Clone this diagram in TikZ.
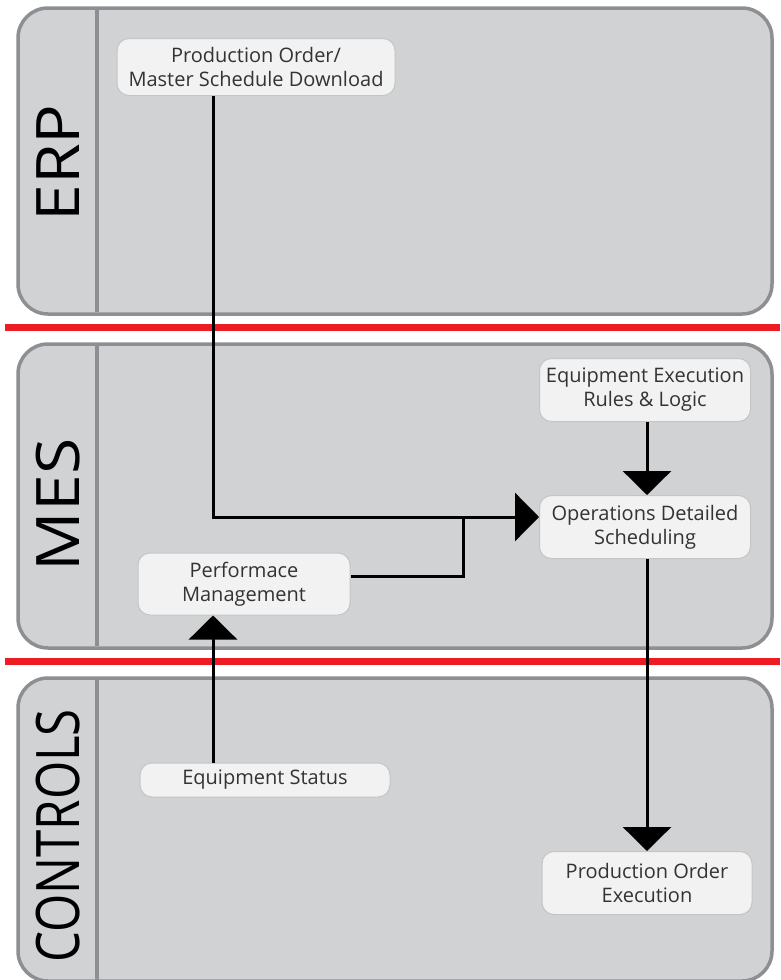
\documentclass[tikz,border=0pt]{standalone}
\usepackage{fontspec}
\setmainfont{Open Sans}
\usetikzlibrary{arrows.meta}
\definecolor{lanefill}{HTML}{D1D2D4}
\definecolor{laneline}{HTML}{8E8F92}
\definecolor{boxfill}{HTML}{F2F2F2}
\definecolor{boxline}{HTML}{C4C5C7}
\definecolor{txt}{HTML}{333333}
\definecolor{redline}{HTML}{ED1C24}
\tikzset{
  lane/.style={fill=lanefill, draw=laneline, line width=3.5pt, rounded corners=30pt},
  divider/.style={draw=laneline, line width=4pt},
  lanelabel/.style={rotate=90, font=\fontsize{60}{60}\selectfont, text=black, inner sep=0pt},
  sep/.style={draw=redline, line width=7pt},
  box/.style={draw=boxline, fill=boxfill, line width=1pt, rounded corners=12pt, text=txt,
    font=\fontsize{20}{24}\selectfont, align=center, inner sep=0pt},
  conn/.style={draw=black, line width=3pt},
  arr/.style={conn, -{Triangle[width=48pt,length=24pt]}},
}
\begin{document}
\begin{tikzpicture}[x=1pt,y=-1pt]
\useasboundingbox (0,0) rectangle (780,980);
\fill[white] (0,0) rectangle (780,980);
% lanes
\path[lane] (18,8) rectangle (772,314);
\path[lane] (18,344) rectangle (772,648);
\path[lane] (18,678) rectangle (772,981);
\draw[divider] (97,10) -- (97,312);
\draw[divider] (97,346) -- (97,646);
\draw[divider] (97,680) -- (97,980);
\node[lanelabel] (erp) at (58,163) {\scalebox{1.1}[1]{ERP}};
\node[lanelabel] (mes) at (58,505) {\scalebox{1.1}[1]{MES}};
\node[lanelabel] (ctl) at (58,836) {\scalebox{0.82}[1]{CONTROLS}};
% separators
\draw[sep] (5,327) -- (780,327);
\draw[sep] (5,661) -- (780,661);
% nodes
\node[box, minimum width=278pt, minimum height=57pt] (po) at (256,67) {Production Order/\\Master Schedule Download};
\node[box, minimum width=211pt, minimum height=63pt] (eer) at (645,390) {Equipment Execution\\Rules \& Logic};
\node[box, minimum width=211pt, minimum height=63pt] (ods) at (645,527) {Operations Detailed\\Scheduling};
\node[box, minimum width=212pt, minimum height=62pt] (pm) at (244,584) {Performace\\Management};
\node[box, minimum width=250pt, minimum height=34pt] (es) at (265,780) {Equipment Status};
\node[box, minimum width=210pt, minimum height=63pt] (poe) at (647,883) {Production Order\\Execution};
\coordinate (colA) at (213,0);
\coordinate (colB) at (647,0);
\coordinate (join) at (463,516);
% connectors
\draw[arr] (po.south -| colA) |- ([yshift=10pt]ods.west);
\draw[conn] ([yshift=8pt]pm.east) -| (join);
\draw[arr] (eer.south -| colB) -- (ods.north -| colB);
\draw[arr] (ods.south -| colB) -- (poe.north -| colB);
\draw[arr] (es.north -| colA) -- (pm.south -| colA);
\end{tikzpicture}
\end{document}
